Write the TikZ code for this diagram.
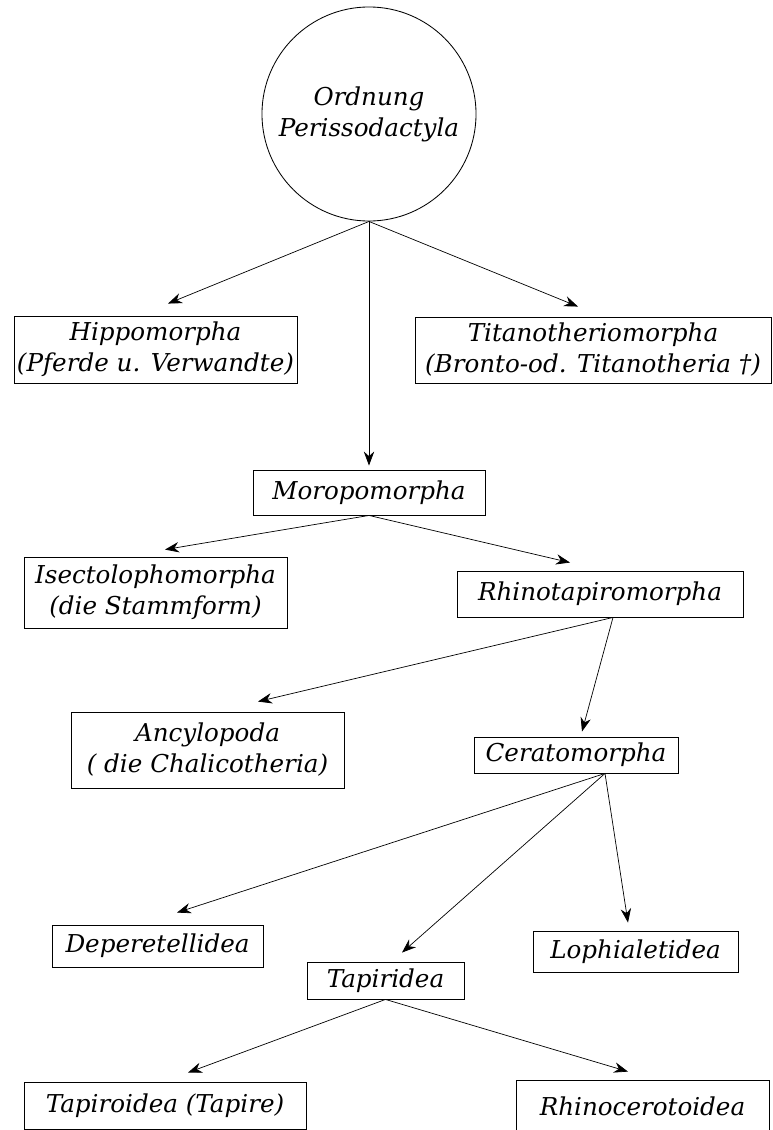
\documentclass[tikz,border=0pt]{standalone}
\usepackage{fontspec}
\setmainfont{DejaVu Serif}
\usepackage{tikz}
\usetikzlibrary{arrows.meta,calc,positioning}

\begin{document}
\begin{tikzpicture}[x=0.025cm,y=-0.025cm,
    taxon/.style={draw,line width=0.6pt,rectangle,align=center,inner sep=0pt,
        font=\fontsize{17.5}{22}\selectfont\itshape},
    link/.style={-{Stealth[length=3.5mm,width=2.6mm]},line width=0.5pt}]
    \useasboundingbox (0,0) rectangle (773,1130);

    % Ordnung
    \node[draw,circle,line width=0.6pt,minimum size=5.35cm,inner sep=0pt,align=center,
        font=\fontsize{17.5}{22}\selectfont\itshape] (ord) at (369,114) {Ordnung\\Perissodactyla};

    % Unterordnungen
    \node[taxon,minimum width=7.075cm,minimum height=1.675cm] (hippo) at (155.5,349.5) {Hippomorpha\\(Pferde u. Verwandte)};
    \node[taxon,minimum width=8.9cm,minimum height=1.65cm] (titano) at (593,350) {Titanotheriomorpha\\(Bronto-od. Titanotheria †)};
    \node[taxon,minimum width=5.8cm,minimum height=1.125cm] (moro) at (369,492.5) {Moropomorpha};

    \node[taxon,minimum width=6.575cm,minimum height=1.775cm] (isecto) at (155.5,592.5) {Isectolophomorpha\\(die Stammform)};
    \node[taxon,minimum width=7.15cm,minimum height=1.15cm] (rhino) at (600,594) {Rhinotapiromorpha};

    \node[taxon,minimum width=6.825cm,minimum height=1.9cm] (ancy) at (207.5,750) {Ancylopoda\\( die Chalicotheria)};
    \node[taxon,minimum width=5.1cm,minimum height=0.9cm] (cerato) at (576,755) {Ceratomorpha};

    % Ueberfamilien
    \node[taxon,minimum width=5.275cm,minimum height=1.05cm] (depe) at (157.5,946) {Deperetellidea};
    \node[taxon,minimum width=3.925cm,minimum height=0.925cm] (tapid) at (385.5,980.5) {Tapiridea};
    \node[taxon,minimum width=5.125cm,minimum height=1.025cm] (loph) at (635.5,951.5) {Lophialetidea};

    \node[taxon,minimum width=7.05cm,minimum height=1.175cm] (tapoid) at (165,1105.5) {Tapiroidea (Tapire)};
    \node[taxon,minimum width=6.325cm,minimum height=1.3cm] (rhinoc) at (642.5,1106) {Rhinocerotoidea};

    % Pfeile
    \draw[link] (ord.south) -- ($(hippo.north)+(12.5,-12)$);
    \draw[link] (ord.south) -- ($(titano.north)+(-15,-10)$);
    \draw[link] (ord.south) -- ($(moro.north)+(0,-4)$);

    \draw[link] (moro.south) -- ($(isecto.north)+(9.5,-7)$);
    \draw[link] (moro.south) -- ($(rhino.north)+(-30,-8)$);

    \draw[link] ($(rhino.south)+(13,0)$) -- ($(ancy.north)+(50.5,-10)$);
    \draw[link] ($(rhino.south)+(13,0)$) -- ($(cerato.north)+(6,-5)$);

    \draw[link] ($(cerato.south)+(29,0)$) -- ($(depe.north)+(19.5,-12)$);
    \draw[link] ($(cerato.south)+(29,0)$) -- ($(tapid.north)+(16.5,-9)$);
    \draw[link] ($(cerato.south)+(29,0)$) -- ($(loph.north)+(-7.5,-8)$);

    \draw[link] (tapid.south) -- ($(tapoid.north)+(23,-9)$);
    \draw[link] (tapid.south) -- ($(rhinoc.north)+(-14.5,-8)$);
\end{tikzpicture}
\end{document}
